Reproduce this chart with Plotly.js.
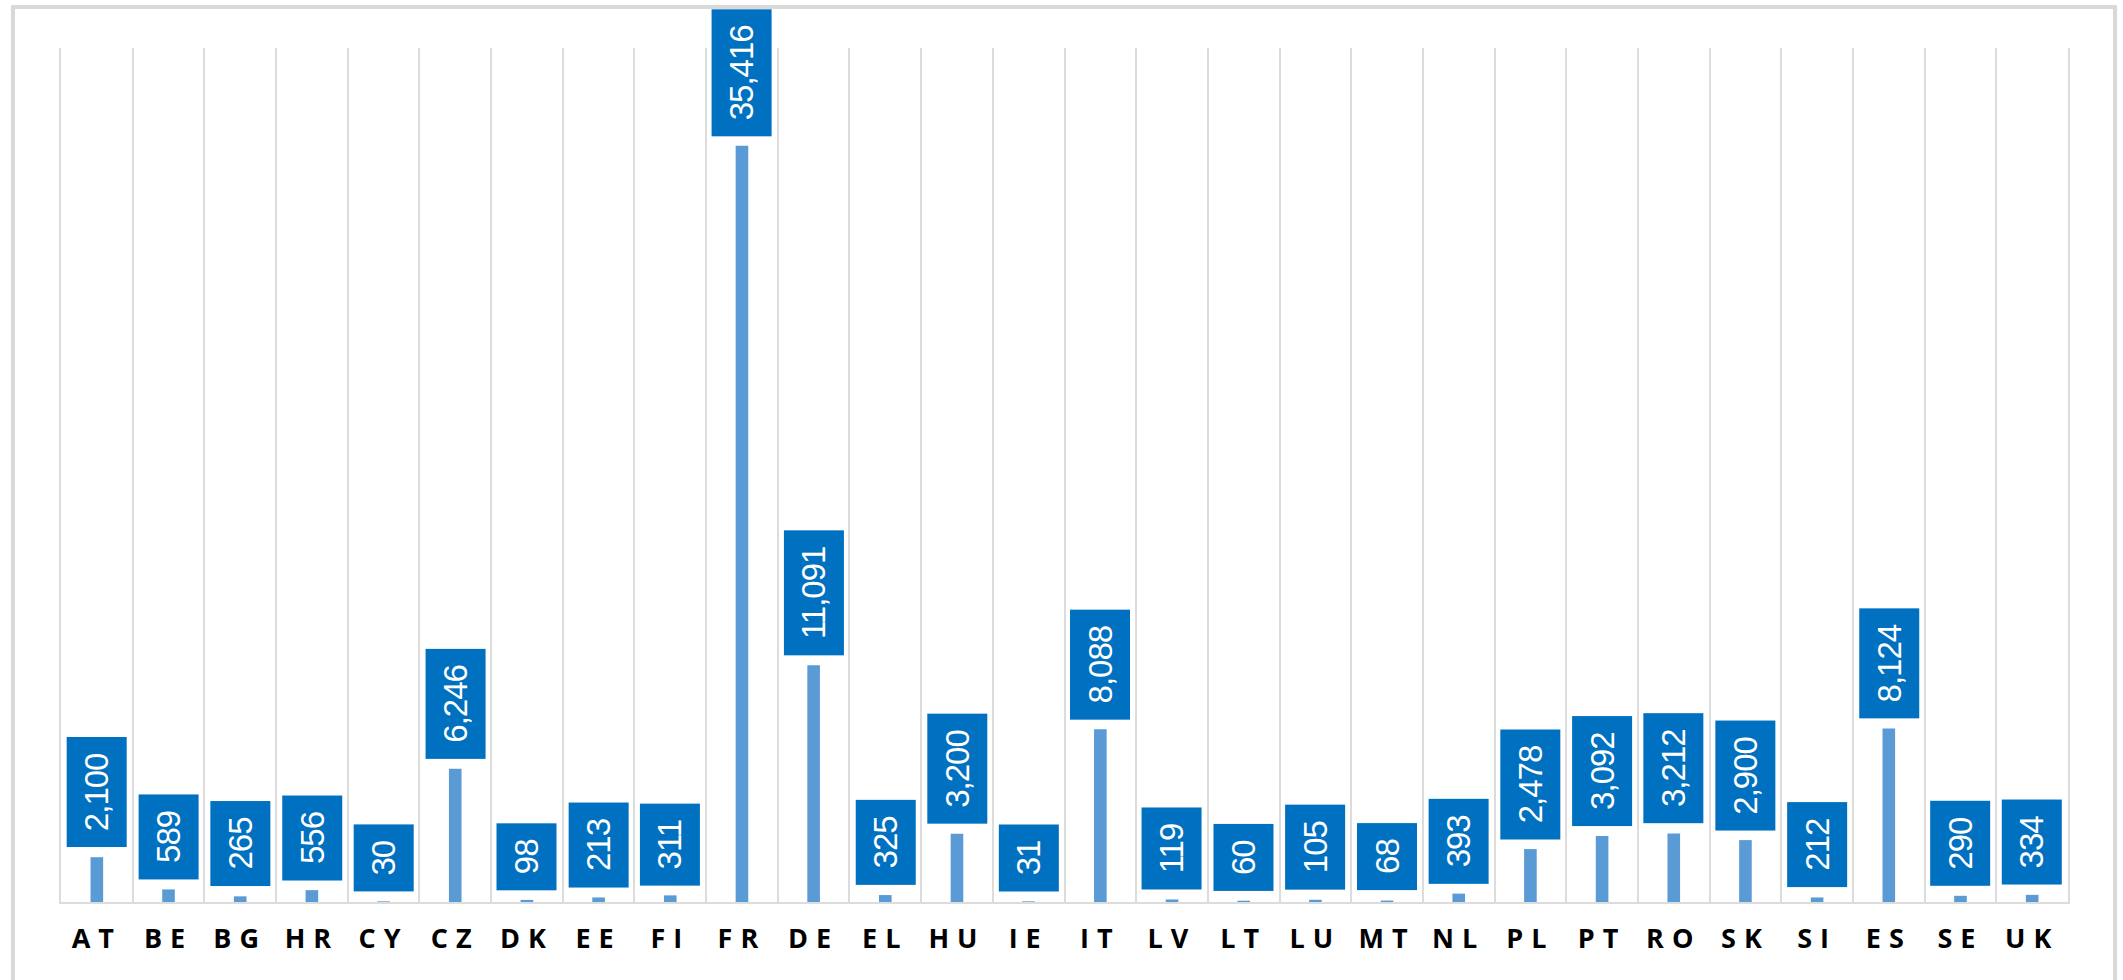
<!DOCTYPE html>
<html>
<head>
<meta charset="utf-8">
<script src="https://cdn.plot.ly/plotly-3.0.1.min.js"></script>
<style>
  html, body { margin: 0; padding: 0; background: #fff; }
  #chart { position: absolute; left: 0; top: 0; width: 2123px; height: 980px; }
  #frame { position: absolute; left: 11px; top: 5px; width: 2098px; height: 990px;
           border: 4px solid #d9d9d9; border-bottom: none; pointer-events: none; }
  .xtick text { letter-spacing: 8px; }
  .annotation-text { letter-spacing: -1px; }
</style>
</head>
<body>
<div id="chart"></div>
<div id="frame"></div>
<script>
const countries = ["AT","BE","BG","HR","CY","CZ","DK","EE","FI","FR","DE","EL","HU","IE","IT","LV","LT","LU","MT","NL","PL","PT","RO","SK","SI","ES","SE","UK"];
const values = [2100,589,265,556,30,6246,98,213,311,35416,11091,325,3200,31,8088,119,60,105,68,393,2478,3092,3212,2900,212,8124,290,334];

const labelFont = 'Liberation Sans, Arial, sans-serif';
const labelSize = 33;
const canvas = document.createElement('canvas');
const ctx = canvas.getContext('2d');
ctx.font = labelSize + 'px ' + labelFont;

const fmt = v => v.toLocaleString('en-US');

const annotations = countries.map((c, i) => {
  const txt = fmt(values[i]);
  const w = ctx.measureText(txt).width - txt.length * 1;
  return {
    x: c, y: values[i], xref: 'x', yref: 'y',
    text: txt, showarrow: false, textangle: -90,
    yanchor: 'bottom', xanchor: 'center', yshift: 10,
    bgcolor: '#0070c0', borderpad: 8, borderwidth: 0,
    width: Math.ceil(w) + 16, height: 44,
    font: { family: labelFont, size: labelSize, color: '#ffffff' }
  };
});

const trace = {
  type: 'bar', x: countries, y: values,
  marker: { color: '#5b9bd5' },
  hoverinfo: 'x+y'
};

const layout = {
  width: 2123, height: 980,
  margin: { l: 61, r: 55, t: 48, b: 78 },
  paper_bgcolor: '#ffffff', plot_bgcolor: '#ffffff',
  bargap: 0.824,
  showlegend: false,
  xaxis: {
    type: 'category',
    showgrid: true, gridcolor: '#dcdcdc', gridwidth: 2,
    tickson: 'boundaries', ticks: '',
    showline: true, linecolor: '#dcdcdc', linewidth: 2,
    tickfont: { family: 'Open Sans, sans-serif', size: 27, color: '#000000', weight: 700 },
    ticklabelstandoff: 12
  },
  yaxis: {
    range: [0, 40000],
    showgrid: false, zeroline: false, showticklabels: false, ticks: '',
    showline: true, mirror: true, linecolor: '#dcdcdc', linewidth: 2
  },
  annotations: annotations
};

Plotly.newPlot('chart', [trace], layout, { staticPlot: true });
</script>
</body>
</html>
